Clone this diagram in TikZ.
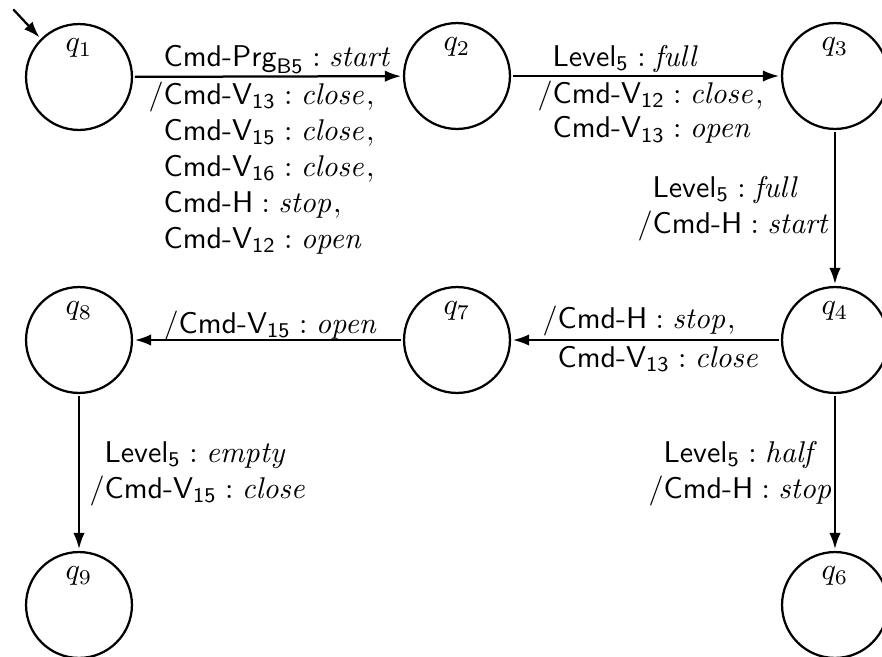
\documentclass[tikz,border=0pt]{standalone}
\usepackage{amsmath}
\usetikzlibrary{arrows.meta}

% signal name with a sans-serif index, used in math mode
\newcommand{\sgn}[2]{\textsf{#1}_{\textsf{#2}}}
% signal value, set in italic text shape
\newcommand{\val}[1]{\mathit{#1}}
% output part of a transition label: slash hangs into the left margin
\newcommand{\hangslash}{\llap{$/$}}

\tikzset{
  state/.style={circle, draw, line width=0.75pt, minimum size=35.3pt, inner sep=0pt},
  qname/.style={anchor=base, inner sep=0pt},
  edge/.style={line width=0.75pt, -{Latex[length=5.4pt,width=3.8pt]}, shorten >=0.6pt, shorten <=0.6pt},
  lbl/.style={anchor=base west, inner sep=0pt, align=left}
}

\begin{document}
\begin{tikzpicture}[x=0.33333pt, y=-0.33333pt]
  \useasboundingbox (0,0) rectangle (882,657);

  % states
  \node[state] (q1) at (79,77) {};
  \node[state] (q2) at (457,76) {};
  \node[state] (q3) at (835,76) {};
  \node[state] (q4) at (835,340) {};
  \node[state] (q7) at (457,340) {};
  \node[state] (q8) at (79,340) {};
  \node[state] (q9) at (79,605) {};
  \node[state] (q6) at (835,605) {};

  % state names, set near the top of each circle
  \node[qname] (n1) at ([yshift=8.5pt]q1.center) {$q_1$};
  \node[qname] (n2) at ([yshift=8.5pt]q2.center) {$q_2$};
  \node[qname] (n3) at ([yshift=8.5pt]q3.center) {$q_3$};
  \node[qname] (n4) at ([yshift=8.5pt]q4.center) {$q_4$};
  \node[qname] (n7) at ([yshift=8.5pt]q7.center) {$q_7$};
  \node[qname] (n8) at ([yshift=8.5pt]q8.center) {$q_8$};
  \node[qname] (n9) at ([yshift=8.5pt]q9.center) {$q_9$};
  \node[qname] (n6) at ([yshift=8.5pt]q6.center) {$q_6$};

  % initial marker
  \coordinate (init) at (12,8);
  \draw[edge] (init) -- (q1.135);

  % transitions
  \draw[edge] (q1) -- (q2);
  \draw[edge] (q2) -- (q3);
  \draw[edge] (q3) -- (q4);
  \draw[edge] (q4) -- (q7);
  \draw[edge] (q7) -- (q8);
  \draw[edge] (q8) -- (q9);
  \draw[edge] (q4) -- (q6);

  % q1 -> q2
  \node[lbl] (l12a) at (163,66) {$\sgn{Cmd-Prg}{B5} : \val{start}$};
  \node[lbl] (l12b) at (163,104) {\vtop{\baselineskip=12pt
    \hbox{\hangslash$\sgn{Cmd-V}{13} : \val{close},$}
    \hbox{$\sgn{Cmd-V}{15} : \val{close},$}
    \hbox{$\sgn{Cmd-V}{16} : \val{close},$}
    \hbox{$\textsf{Cmd-H} : \val{stop},$}
    \hbox{$\sgn{Cmd-V}{12} : \val{open}$}}};

  % q2 -> q3
  \node[lbl] (l23a) at (552,66) {$\sgn{Level}{5} : \val{full}$};
  \node[lbl] (l23b) at (552,103) {\vtop{\baselineskip=11.5pt
    \hbox{\hangslash$\sgn{Cmd-V}{12} : \val{close},$}
    \hbox{$\sgn{Cmd-V}{13} : \val{open}$}}};

  % q3 -> q4
  \node[lbl] (l34) at (652,197) {\vtop{\baselineskip=12pt
    \hbox{$\sgn{Level}{5} : \val{full}$}
    \hbox{\hangslash$\textsf{Cmd-H} : \val{start}$}}};

  % q4 -> q7
  \node[lbl] (l47a) at (557,328) {\hangslash$\textsf{Cmd-H} : \val{stop},$};
  \node[lbl] (l47b) at (557,367) {$\sgn{Cmd-V}{13} : \val{close}$};

  % q7 -> q8
  \node[lbl] (l78) at (178,333) {\hangslash$\sgn{Cmd-V}{15} : \val{open}$};

  % q8 -> q9
  \node[lbl] (l89) at (104,462) {\vtop{\baselineskip=12pt
    \hbox{$\sgn{Level}{5} : \val{empty}$}
    \hbox{\hangslash$\sgn{Cmd-V}{15} : \val{close}$}}};

  % q4 -> q6
  \node[lbl] (l46) at (663,462) {\vtop{\baselineskip=12pt
    \hbox{$\sgn{Level}{5} : \val{half}$}
    \hbox{\hangslash$\textsf{Cmd-H} : \val{stop}$}}};
\end{tikzpicture}
\end{document}
